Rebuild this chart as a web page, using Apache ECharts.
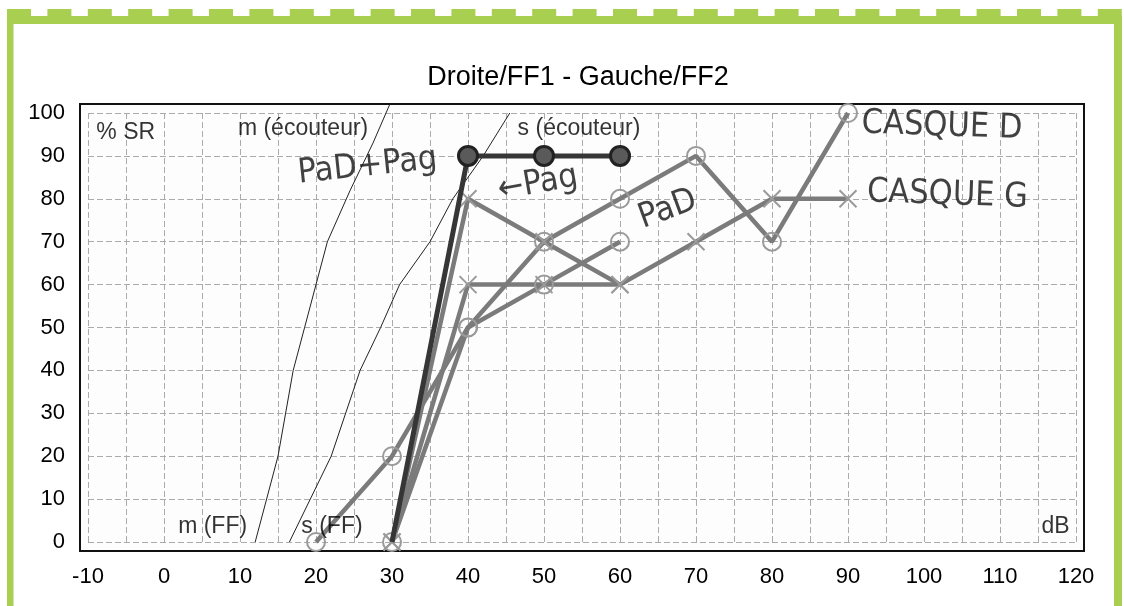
<!DOCTYPE html>
<html>
<head>
<meta charset="utf-8">
<script src="https://cdn.jsdelivr.net/npm/echarts@6/dist/echarts.min.js"></script>
<style>
  html, body { margin: 0; padding: 0; background: #ffffff; }
  #chart { width: 1124px; height: 606px; }
</style>
</head>
<body>
<div id="chart"></div>
<script>
// ---- chart data ----
const chartTitle = 'Droite/FF1 - Gauche/FF2';
const dbRange = [-10, 120];
const pctRange = [0, 100];

// reference intelligibility curves (thin lines)
const curveM = [[12, 0], [15, 20], [17, 40], [18.5, 50], [21.5, 70], [24.5, 82], [27.5, 93], [29.7, 102]];
const curveS = [[16.5, 0], [22, 20], [25.8, 40], [28.5, 50], [31, 60], [35, 70], [38, 80], [42, 90], [45.5, 100]];

// measured scores: [dB, % SR]
const casqueD = [[20, 0], [30, 20], [40, 50], [50, 70], [60, 80], [70, 90], [80, 70], [90, 100]];
const pad     = [[30, 0], [40, 50], [50, 60], [60, 70]];
const casqueG = [[30, 0], [40, 60], [50, 60], [60, 60], [70, 70], [80, 80], [90, 80]];
const pag     = [[30, 0], [40, 80], [50, 70], [60, 60]];
const padPag  = [[30, 0], [40, 90], [50, 90], [60, 90]];

// printed labels: [dB, %, text, align]
const printedLabels = [
  [-8.9, 95.5, '% SR', 'left'],
  [18.3, 96.3, 'm (écouteur)', 'center'],
  [54.6, 96.3, 's (écouteur)', 'center'],
  [6.4, 3.6, 'm (FF)', 'center'],
  [22.1, 3.6, 's (FF)', 'center'],
  [117.3, 3.6, 'dB', 'center']
];

// hand-written notes: [dB, %, text, align, rotation]
const handNotes = [
  [26.8, 87.5, 'PaD+Pag', 'center', 6],
  [49.2, 83.5, '←Pag', 'center', 10],
  [66.3, 77.5, 'PaD', 'center', 20],
  [91.8, 97.5, 'CASQUE D', 'left', -2],
  [92.5, 81.5, 'CASQUE G', 'left', -2]
];

// ---- styles ----
const GREEN = '#a8cf50';
const GRAY_LINE = '#7b7b7b';
const GRAY_MARK = '#9a9a9a';
const DARK = '#363636';
const CROSS = 'path://M0,0L20,20M20,0L0,20';
const SANS = '"Liberation Sans", Arial, sans-serif';

function measured(name, data, symbol, color, width, z) {
  return {
    name, type: 'line', data, xAxisIndex: 1, yAxisIndex: 1,
    symbol, symbolSize: symbol === CROSS ? 17 : 18, z,
    lineStyle: { color, width },
    itemStyle: { color: 'rgba(255,255,255,0)', borderColor: GRAY_MARK, borderWidth: 2 },
    emphasis: { disabled: true }
  };
}

function labelSeries(rows, style) {
  return {
    type: 'scatter', xAxisIndex: 1, yAxisIndex: 1, symbolSize: 0, z: 20,
    silent: true,
    data: rows.map(r => ({
      value: [r[0], r[1]],
      label: {
        show: true, formatter: r[2], position: [0, 0],
        align: r[3], verticalAlign: 'middle', rotate: r[4] || 0,
        ...style
      }
    }))
  };
}

// green page frame: top tab strip, top band, side bands
const frame = [];
for (let i = 0; i < 28; i++) {
  frame.push({ type: 'rect', shape: { x: 7 + i * 40.4, y: 9, width: 24, height: 8 }, style: { fill: GREEN }, silent: true });
}
frame.push({ type: 'rect', shape: { x: 7, y: 16, width: 1115, height: 8 }, style: { fill: GREEN }, silent: true });
frame.push({ type: 'rect', shape: { x: 7, y: 16, width: 6.5, height: 600 }, style: { fill: GREEN }, silent: true });
frame.push({ type: 'rect', shape: { x: 1114, y: 16, width: 8, height: 600 }, style: { fill: GREEN }, silent: true });
frame.push({
  type: 'text', x: 578, y: 78, silent: true,
  style: { text: chartTitle, fill: '#000', font: '27px ' + SANS, textAlign: 'center', textVerticalAlign: 'middle' }
});

const gridLine = { show: true, lineStyle: { color: '#ababab', width: 1, type: [6, 3] } };
const tickFont = { color: '#000', fontSize: 22, fontFamily: SANS };

const option = {
  animation: false,
  backgroundColor: '#ffffff',
  graphic: frame,
  grid: [
    // outer frame of the plot
    { left: 80, right: 40, top: 104, bottom: 55, show: true, borderColor: '#111', borderWidth: 2, backgroundColor: '#fdfdfd' },
    // scaled plotting area
    { left: 88, right: 48, top: 113, bottom: 64, show: false }
  ],
  xAxis: [
    { gridIndex: 0, type: 'value', show: false, min: 0, max: 1 },
    {
      gridIndex: 1, type: 'value', min: dbRange[0], max: dbRange[1], interval: 5,
      axisLine: { show: false }, axisTick: { show: false },
      axisLabel: { ...tickFont, margin: 24, formatter: v => (v % 10 === 0 ? String(v) : '') },
      splitLine: gridLine
    }
  ],
  yAxis: [
    { gridIndex: 0, type: 'value', show: false, min: 0, max: 1 },
    {
      gridIndex: 1, type: 'value', min: pctRange[0], max: pctRange[1], interval: 10,
      axisLine: { show: false }, axisTick: { show: false },
      axisLabel: { ...tickFont, margin: 23 },
      splitLine: gridLine
    }
  ],
  series: [
    { type: 'line', data: curveM, xAxisIndex: 1, yAxisIndex: 1, symbol: 'none', clip: false, z: 3,
      lineStyle: { color: '#222', width: 1 }, emphasis: { disabled: true } },
    { type: 'line', data: curveS, xAxisIndex: 1, yAxisIndex: 1, symbol: 'none', clip: false, z: 3,
      lineStyle: { color: '#222', width: 1 }, emphasis: { disabled: true } },
    measured('Casque D', casqueD, 'circle', GRAY_LINE, 4.5, 4),
    measured('PaD', pad, 'circle', GRAY_LINE, 4.5, 4),
    measured('Casque G', casqueG, CROSS, GRAY_LINE, 4.5, 4),
    measured('Pag', pag, CROSS, GRAY_LINE, 4.5, 4),
    {
      name: 'PaD+Pag', type: 'line', xAxisIndex: 1, yAxisIndex: 1,
      // the 0 % starting point sits under the grey crosses, so no disc is drawn there
      data: padPag.map(p => (p[1] === 0 ? { value: p, symbol: 'none' } : p)),
      symbol: 'circle', symbolSize: 19, z: 6,
      lineStyle: { color: DARK, width: 5 },
      itemStyle: { color: '#5a5a5a', borderColor: '#222', borderWidth: 3 },
      emphasis: { disabled: true }
    },
    labelSeries(printedLabels, { color: '#000', fontSize: 23, fontFamily: SANS }),
    labelSeries(handNotes, { color: '#111', fontSize: 34, fontFamily: '"Liberation Sans Narrow", "DejaVu Sans Condensed", sans-serif' })
  ]
};

const chart = echarts.init(document.getElementById('chart'), null, { renderer: 'canvas' });
chart.setOption(option);
</script>
</body>
</html>
